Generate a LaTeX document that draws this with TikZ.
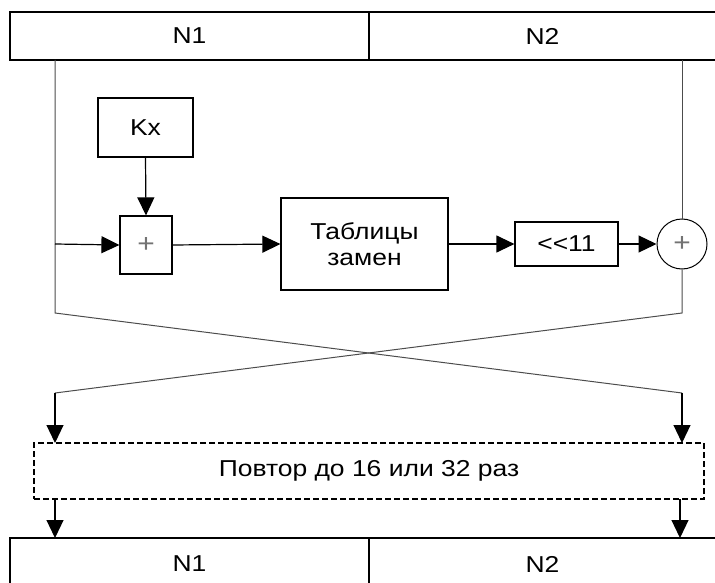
\documentclass[tikz,border=0pt]{standalone}
\usepackage{fontspec}
\setmainfont{Liberation Sans}[FakeStretch=1.15]
\usetikzlibrary{arrows.meta}
\begin{document}
\begin{tikzpicture}[x=1pt,y=-1pt,
  box/.style={draw, line width=1.2pt, inner sep=0pt, font=\fontsize{23}{26}\selectfont},
  bar/.style={draw, line width=1.3pt, inner sep=0pt, font=\fontsize{23}{26}\selectfont},
  wire/.style={line width=1pt, draw=black!70},
  arr/.style={line width=1.2pt, -{Triangle[length=18pt,width=17pt]}},
  sign/.style={text=black!55, font=\fontsize{26}{26}\selectfont}]
\useasboundingbox (0,0) rectangle (715,583);
% top bar
\node[bar, minimum width=359pt, minimum height=48pt] (t1) at (189.5,36) {N1};
\node[bar, minimum width=347pt, minimum height=48pt] (t2) at (542.5,36) {N2};
% blocks
\node[box, minimum width=95pt, minimum height=59pt] (kx) at (145.5,127.5) {Kx};
\node[box, minimum width=52pt, minimum height=58pt] (add) at (146,245) {};
\node[sign] at (add.center) {+};
\node[box, minimum width=167pt, minimum height=92pt, align=center] (sb) at (364.5,244) {Таблицы\\замен};
\node[box, minimum width=103pt, minimum height=44pt] (sh) at (566.5,244) {\mbox{<}\mbox{<}11};
\node[circle, draw, line width=1pt, minimum size=50pt, inner sep=0pt] (xo) at (682,244) {};
\node[sign] at (xo.center) {+};
% repeat box
\node[box, dashed, dash pattern=on 6pt off 3pt, minimum width=670pt, minimum height=56pt] (rep) at (369,471) {Повтор до 16 или 32 раз};
% bottom bar
\node[bar, minimum width=359pt, minimum height=52pt] (b1) at (189.5,564) {N1};
\node[bar, minimum width=347pt, minimum height=52pt] (b2) at (542.5,564) {N2};
% coordinates
\coordinate (l0) at (55,60);
\coordinate (lm) at (55,244);
\coordinate (l1) at (55,313);
\coordinate (r0) at (682,60);
\coordinate (r1) at (682,313);
\coordinate (l2) at (55,393);
\coordinate (r2) at (682,393);
\coordinate (l3) at (55,443);
\coordinate (r3) at (682,443);
\coordinate (l4) at (55,499);
\coordinate (r4) at (680,499);
\coordinate (l5) at (55,538);
\coordinate (r5) at (680,538);
% wires
\draw[wire] (l0) -- (l1) -- (r2);
\draw[wire] (r0) -- (xo.north);
\draw[wire] (xo.south) -- (r1) -- (l2);
\draw[arr] (r2) -- (r3);
\draw[arr] (l2) -- (l3);
\draw[arr] (l4) -- (l5);
\draw[arr] (r4) -- (r5);
\draw[arr] (lm) -- (add.west);
\draw[arr] (kx.south) -- (add.north);
\draw[arr] (add.east) -- (sb.west);
\draw[arr] (sb.east) -- (sh.west);
\draw[arr] (sh.east) -- (xo.west);
\end{tikzpicture}
\end{document}
